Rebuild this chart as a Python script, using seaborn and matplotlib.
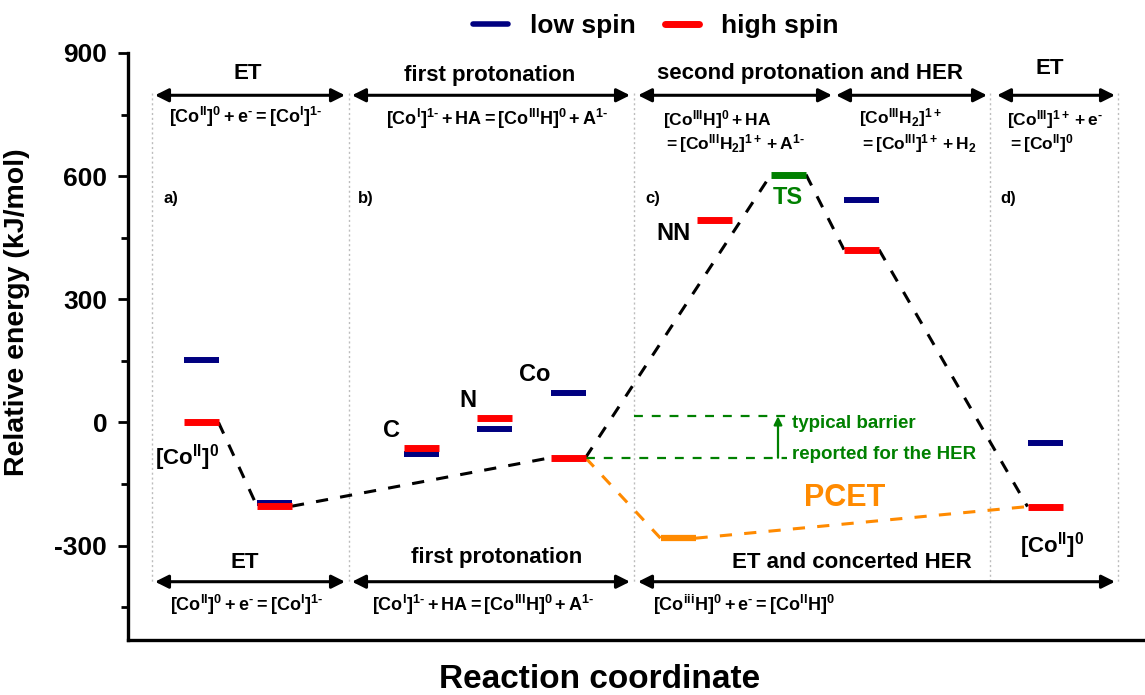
import numpy as np
import matplotlib
matplotlib.use('Agg')
import matplotlib.pyplot as plt
import seaborn as sns
from matplotlib.lines import Line2D
from matplotlib.ticker import MultipleLocator

# ---------------- data ----------------
# reaction-coordinate positions (level centres) and energies (kJ/mol)
low_x = [201, 274.5, 421, 494.5, 568, 861.5, 1045]
low_E = [153, -197, -78, -15, 71, 542, -50]
high_x = [201, 274.5, 421, 494.5, 568, 714.5, 861.5, 1045]
high_E = [0, -204, -62, 10, -86, 492, 421, -205]
ts_x = [788.5]
ts_E = [604]
pcet_x = [678]
pcet_E = [-282]
# main HER path (indices into high-spin list, 'TS' for transition state)
main_path = [0, 1, 4, 'TS', 6, 7]
barrier_low = -86
barrier_high = 15
section_x = [152, 349, 634, 990, 1118]
yticks = [900, 600, 300, 0, -300]

# ---------------- style ----------------
sns.set_theme(style='ticks')
plt.rcParams['font.family'] = ['Liberation Sans', 'DejaVu Sans']
plt.rcParams['font.weight'] = 'bold'
plt.rcParams['text.color'] = 'black'
plt.rcParams['axes.labelcolor'] = 'black'
plt.rcParams['xtick.color'] = 'black'
plt.rcParams['ytick.color'] = 'black'
plt.rcParams['axes.unicode_minus'] = False
plt.rcParams['mathtext.fontset'] = 'custom'
plt.rcParams['mathtext.rm'] = 'Liberation Sans:bold'
plt.rcParams['mathtext.bf'] = 'Liberation Sans:bold'
plt.rcParams['mathtext.it'] = 'Liberation Sans:bold'
plt.rcParams['mathtext.sf'] = 'Liberation Sans:bold'
plt.rcParams['mathtext.default'] = 'rm'

fig = plt.figure(figsize=(11.45, 6.95), dpi=100)
ax = fig.add_axes([128 / 1145, 1 - 640 / 695, 1 - 128 / 1145, (640 - 53) / 695])
ax.set_xlim(128, 1145)
ax.set_ylim(-530, 900)

HW = 17.5
NAVY, RED, GREEN, ORANGE = '#000080', '#ff0000', '#008000', '#ff8a00'
HY = '\u2010'  # hyphen used in charges


def edge(i, side):
    if i == 'TS':
        return (ts_x[0] + side * HW, ts_E[0])
    return (high_x[i] + side * HW, high_E[i])


def dashed(points, color, lw, dash):
    xs = [p[0] for p in points]
    ys = [p[1] for p in points]
    sns.lineplot(x=xs, y=ys, sort=False, estimator=None, ax=ax,
                 color=color, lw=lw, zorder=2, legend=False)
    ax.lines[-1].set_dashes(dash)


# black dashed main path
for a, b in zip(main_path[:-1], main_path[1:]):
    dashed([edge(a, +1), edge(b, -1)], 'black', 2.2, (4, 4))

# orange PCET path
dashed([edge(4, +1), (pcet_x[0] - HW, pcet_E[0])], ORANGE, 2.2, (4, 4))
dashed([(pcet_x[0] + HW, pcet_E[0]), edge(7, -1)], ORANGE, 2.2, (4, 4))

# green barrier lines
dashed([(high_x[4] + HW, barrier_low), (787, barrier_low)], GREEN, 1.6, (4, 4))
dashed([(section_x[2], barrier_high), (787, barrier_high)], GREEN, 1.6, (4, 4))
ax.annotate('', xy=(778, barrier_high), xytext=(778, barrier_low),
            arrowprops=dict(arrowstyle='-|>', color=GREEN, lw=1.6,
                            mutation_scale=12, shrinkA=0, shrinkB=0), zorder=3)
ax.text(792, -2, 'typical barrier', color=GREEN, fontsize=13.5,
        fontweight='bold', va='center', ha='left')
ax.text(792, -78, 'reported for the HER', color=GREEN, fontsize=13.5,
        fontweight='bold', va='center', ha='left')

# energy levels
ax.hlines(low_E, [x - HW for x in low_x], [x + HW for x in low_x],
          colors=NAVY, lw=4.3, zorder=4)
ax.hlines(high_E, [x - HW for x in high_x], [x + HW for x in high_x],
          colors=RED, lw=5, zorder=5)
ax.hlines(ts_E, [x - HW for x in ts_x], [x + HW for x in ts_x],
          colors=GREEN, lw=5, zorder=5)
ax.hlines(pcet_E, [x - HW for x in pcet_x], [x + HW for x in pcet_x],
          colors=ORANGE, lw=4.5, zorder=5)

# section separators
for xs in section_x:
    ax.plot([xs, xs], [802, -390], color='#bdbdbd', lw=1.0,
            ls=(0, (1.5, 2)), zorder=1)

# double arrows
def darrow(x0, x1, y):
    ax.annotate('', xy=(x1, y), xytext=(x0, y),
                arrowprops=dict(arrowstyle='<|-|>', color='black', lw=2.2,
                                mutation_scale=20, shrinkA=0, shrinkB=0),
                zorder=3)

top_y, bot_y = 797, -388
darrow(155, 345, top_y)
darrow(352, 630, top_y)
darrow(638, 832, top_y)
darrow(836, 987, top_y)
darrow(997, 1115, top_y)
darrow(155, 345, bot_y)
darrow(352, 630, bot_y)
darrow(638, 1115, bot_y)

hfs = 16
ax.text(248, 851, 'ET', fontsize=hfs, ha='center', va='center', fontweight='bold')
ax.text(490, 846, 'first protonation', fontsize=hfs, ha='center', va='center', fontweight='bold')
ax.text(810, 851, 'second protonation and HER', fontsize=hfs, ha='center', va='center', fontweight='bold')
ax.text(1050, 863, 'ET', fontsize=hfs, ha='center', va='center', fontweight='bold')
ax.text(245, -341, 'ET', fontsize=hfs, ha='center', va='center', fontweight='bold')
ax.text(497, -330, 'first protonation', fontsize=hfs, ha='center', va='center', fontweight='bold')
ax.text(852, -341, 'ET and concerted HER', fontsize=hfs, ha='center', va='center', fontweight='bold')

ffs = 13
ffs2 = 12.5
ax.text(246, 744, r'$[Co^{II}]^{0} + e^{' + HY + r'} = [Co^{I}]^{1' + HY + '}$', fontsize=ffs, ha='center', va='center')
ax.text(497, 740, r'$[Co^{I}]^{1' + HY + r'} + HA = [Co^{III}H]^{0} + A^{1' + HY + '}$', fontsize=ffs, ha='center', va='center')
ax.text(663, 737, r'$[Co^{III}H]^{0} + HA$', fontsize=ffs2, ha='left', va='center')
ax.text(663, 680, r'$= [Co^{III}H_{2}]^{1+} + A^{1' + HY + '}$', fontsize=ffs2, ha='left', va='center')
ax.text(859, 742, r'$[Co^{III}H_{2}]^{1+}$', fontsize=ffs2, ha='left', va='center')
ax.text(859, 680, r'$= [Co^{III}]^{1+} + H_{2}$', fontsize=ffs2, ha='left', va='center')
ax.text(1007, 737, r'$[Co^{III}]^{1+} + e^{' + HY + '}$', fontsize=ffs2, ha='left', va='center')
ax.text(1007, 680, r'$= [Co^{II}]^{0}$', fontsize=ffs2, ha='left', va='center')
ax.text(247, -444, r'$[Co^{II}]^{0} + e^{' + HY + r'} = [Co^{I}]^{1' + HY + '}$', fontsize=ffs, ha='center', va='center')
ax.text(483, -444, r'$[Co^{I}]^{1' + HY + r'} + HA = [Co^{III}H]^{0} + A^{1' + HY + '}$', fontsize=ffs, ha='center', va='center')
ax.text(653, -444, r'$[Co^{iii}H]^{0} + e^{' + HY + r'} = [Co^{II}H]^{0}$', fontsize=ffs, ha='left', va='center')

for lab, x in zip(['a)', 'b)', 'c)', 'd)'], [163, 358, 645, 1000]):
    ax.text(x, 546, lab, fontsize=12, ha='left', va='center', fontweight='bold')

lfs = 17
ax.text(187, -85, r'$[Co^{II}]^{0}$', fontsize=16, ha='center', va='center')
ax.text(1052, -300, r'$[Co^{II}]^{0}$', fontsize=16, ha='center', va='center')
ax.text(392, -20, 'C', fontsize=lfs, ha='center', va='center', fontweight='bold')
ax.text(468, 54, 'N', fontsize=lfs, ha='center', va='center', fontweight='bold')
ax.text(535, 117, 'Co', fontsize=lfs, ha='center', va='center', fontweight='bold')
ax.text(673, 460, 'NN', fontsize=lfs, ha='center', va='center', fontweight='bold')
ax.text(788, 549, 'TS', fontsize=lfs, ha='center', va='center', fontweight='bold', color=GREEN)
ax.text(845, -185, 'PCET', fontsize=22, ha='center', va='center', fontweight='bold', color=ORANGE)

# axes styling
for s in ['top', 'right']:
    ax.spines[s].set_visible(False)
for s in ['left', 'bottom']:
    ax.spines[s].set_linewidth(2.4)
    ax.spines[s].set_color('black')
ax.set_yticks(yticks)
ax.yaxis.set_minor_locator(MultipleLocator(150))
ax.tick_params(axis='y', which='major', direction='out', length=7, width=2,
               labelsize=19, pad=8, colors='black')
ax.tick_params(axis='y', which='minor', direction='out', length=5, width=2, colors='black')
ax.set_xticks([])
for t in ax.get_yticklabels():
    t.set_fontweight('bold')
ax.set_ylabel('Relative energy (kJ/mol)', fontsize=20.5, fontweight='bold')
ax.yaxis.set_label_coords(-98 / 1017, (640 - 312) / 587)
fig.text(0.524, 0.022, 'Reaction coordinate', fontsize=24, fontweight='bold',
         ha='center', va='center')
ax.set_facecolor('white')
ax.grid(False)

handles = [Line2D([], [], color=NAVY, lw=4), Line2D([], [], color=RED, lw=5)]
fig.legend(handles, ['low spin', 'high spin'], loc='center', ncol=2,
           bbox_to_anchor=(0.573, 0.962), frameon=False,
           handlelength=1.3, columnspacing=1.1, handletextpad=0.85,
           prop={'weight': 'bold', 'size': 19})

fig.savefig('out.png', dpi=100)
